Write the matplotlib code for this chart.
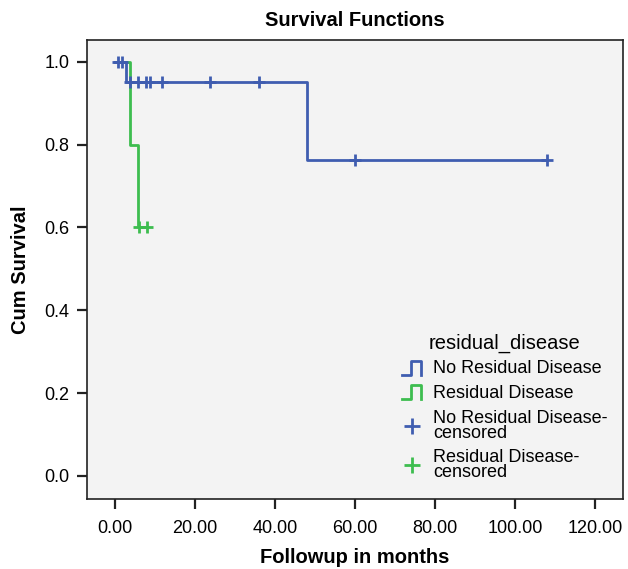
import matplotlib
matplotlib.use("Agg")
import matplotlib.pyplot as plt
from matplotlib.legend_handler import HandlerBase
from matplotlib.lines import Line2D

# survival steps (months, cumulative survival)
nrd_time = [0, 2.75, 48, 108]
nrd_surv = [1.0, 0.952, 0.762, 0.762]
rd_time = [0, 3.75, 5.75, 8]
rd_surv = [1.0, 0.8, 0.6, 0.6]

# censored observations
nrd_cens_time = [0.75, 1.7, 3.75, 5.8, 7.9, 8.75, 11.8, 23.75, 36, 60, 108]
nrd_cens_surv = [1.0, 1.0, 0.952, 0.952, 0.952, 0.952, 0.952, 0.952, 0.952, 0.762, 0.762]
rd_cens_time = [6, 8]
rd_cens_surv = [0.6, 0.6]

xticks = [0, 20, 40, 60, 80, 100, 120]
yticks = [0.0, 0.2, 0.4, 0.6, 0.8, 1.0]

blue = "#3f5db0"
green = "#3dbd4f"

plt.rcParams["font.family"] = ["Liberation Sans", "DejaVu Sans"]

fig = plt.figure(figsize=(6.28, 5.69), dpi=100)
ax = fig.add_axes([0.139, 0.123, 0.853, 0.807])
ax.set_facecolor("#f3f3f3")

ax.step(rd_time, rd_surv, where="post", color=green, lw=2, zorder=2)
ax.step(nrd_time, nrd_surv, where="post", color=blue, lw=2, zorder=3)
ax.plot(rd_cens_time, rd_cens_surv, "+", color=green, ms=9, mew=2, zorder=4)
ax.plot(nrd_cens_time, nrd_cens_surv, "+", color=blue, ms=9, mew=2, zorder=5)

ax.set_xlim(-6.85, 127)
ax.set_ylim(-0.056, 1.053)
ax.set_xticks(xticks)
ax.set_xticklabels(["%.2f" % t for t in xticks])
ax.set_yticks(yticks)
ax.set_yticklabels(["%.1f" % t for t in yticks])
ax.tick_params(direction="out", length=7, width=1.6, labelsize=13, color="#222222")
ax.tick_params(axis="x", pad=8)
ax.tick_params(axis="y", pad=6)
for s in ax.spines.values():
    s.set_linewidth(1.2)
    s.set_color("#222222")

ax.set_title("Survival Functions", fontsize=14.5, fontweight="bold", pad=10)
ax.set_xlabel("Followup in months", fontsize=14.5, fontweight="bold", labelpad=8)
ax.set_ylabel("Cum Survival", fontsize=14.5, fontweight="bold", labelpad=10)


class StepHandler(HandlerBase):
    def create_artists(self, legend, orig_handle, xd, yd, width, height, fontsize, trans):
        x0 = -xd
        xm1 = x0 + width * 0.45
        xm2 = x0 + width * 0.9
        y0, y1 = -yd - height * 0.1, -yd + height * 1.0
        ln = Line2D([x0, xm1, xm1, xm2, xm2], [y0, y0, y1, y1, y0],
                    color=orig_handle.get_color(), lw=2, transform=trans)
        return [ln]


h1 = Line2D([], [], color=blue)
h2 = Line2D([], [], color=green)
h3 = Line2D([], [], color=blue, marker="+", ls="", ms=11, mew=2)
h4 = Line2D([], [], color=green, marker="+", ls="", ms=11, mew=2)
leg = ax.legend([h1, h2, h3, h4],
                ["No Residual Disease", "Residual Disease",
                 "No Residual Disease-\ncensored", "Residual Disease-\ncensored"],
                handler_map={h1: StepHandler(), h2: StepHandler()},
                title="residual_disease", title_fontsize=14.5, fontsize=13,
                frameon=False, loc="upper left", bbox_to_anchor=(0.57, 0.38),
                borderpad=0, handlelength=1.2, handletextpad=0.55, labelspacing=0.42)
for t in leg.get_texts():
    t.set_linespacing(0.85)

fig.savefig("out.png", dpi=100)
